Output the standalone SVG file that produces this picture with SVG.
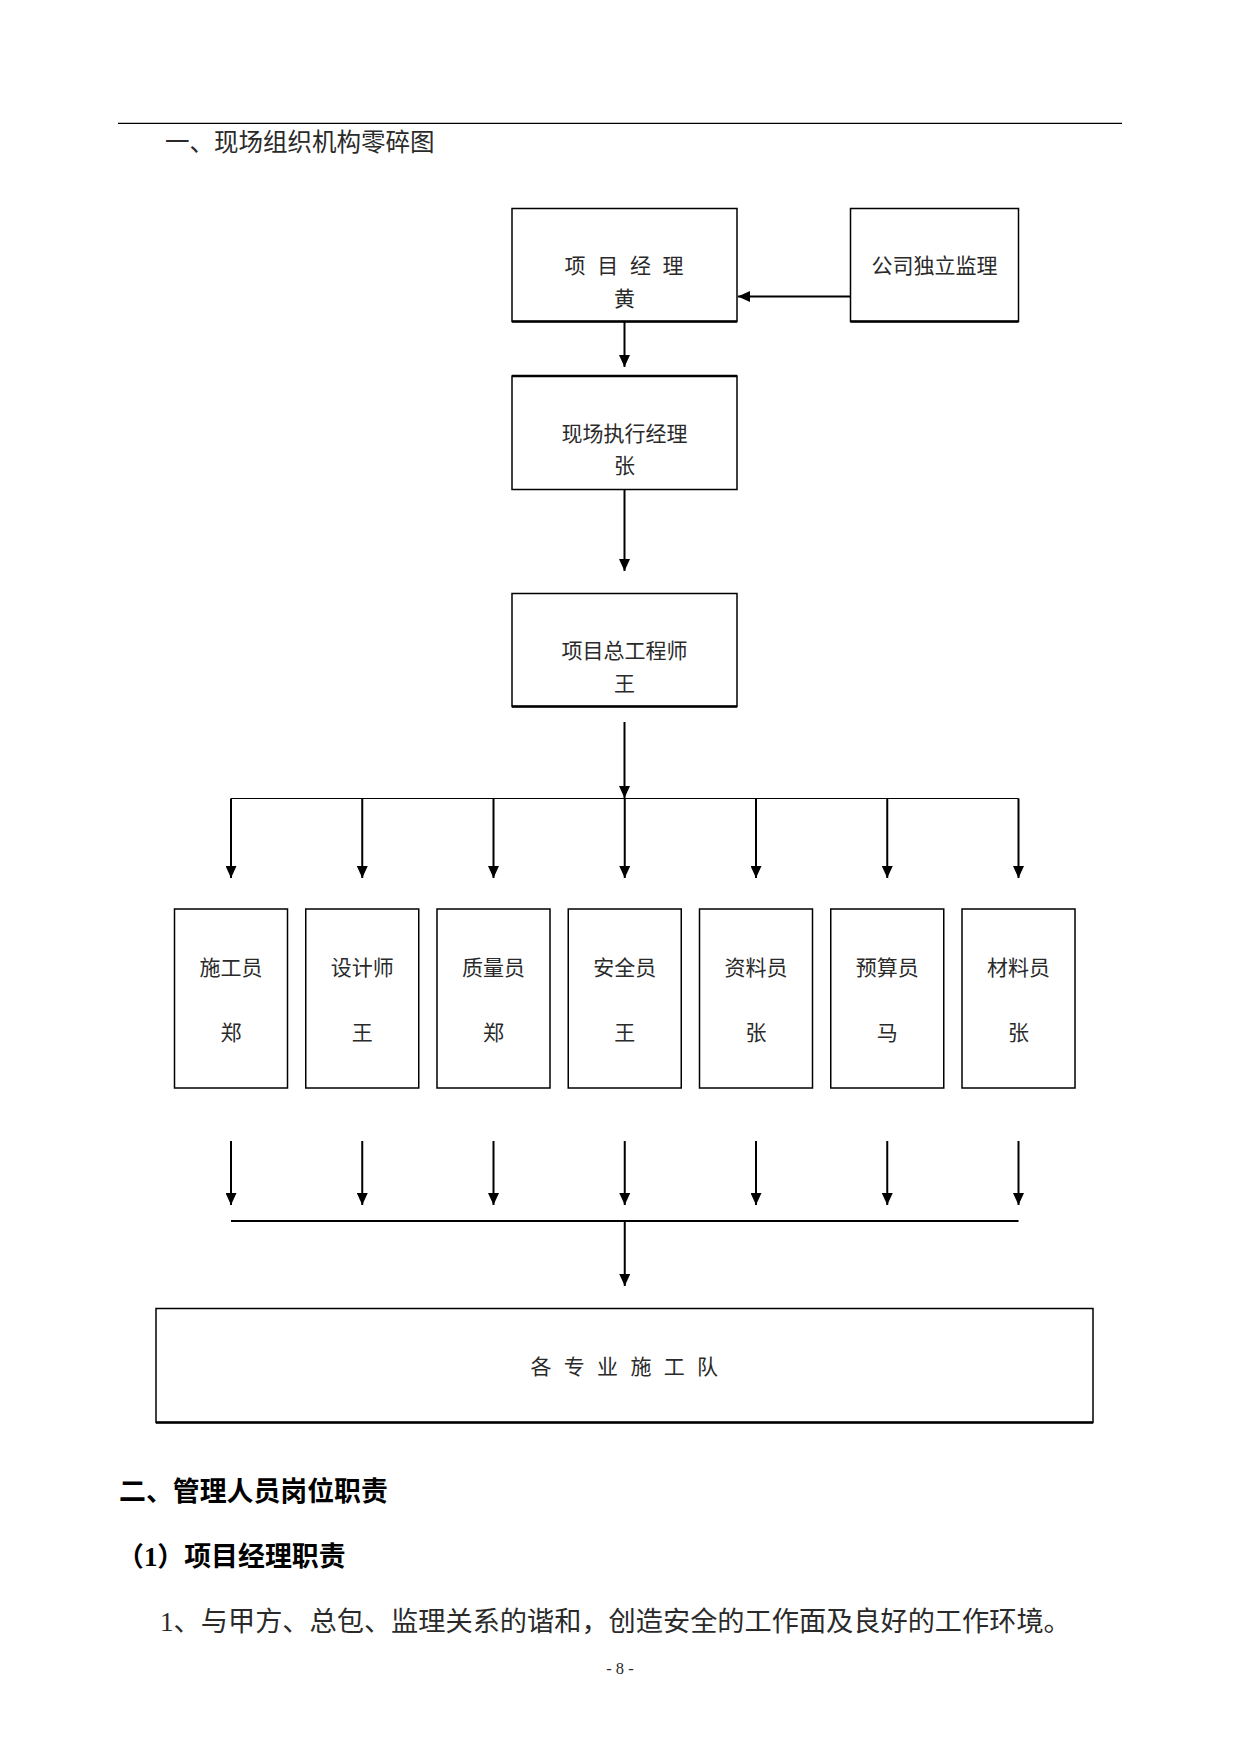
<svg xmlns="http://www.w3.org/2000/svg" width="1241" height="1755" viewBox="0 0 1241 1755">
<style>
  .bg { fill: #ffffff; }
  .box { fill: #ffffff; stroke: #000; stroke-width: 1.5; }
  .thick { stroke: #000; stroke-width: 2.4; fill: none; }
  .t { font-family: "Liberation Serif", "Noto Sans CJK SC", serif; fill: #2a2a2a; }
  .bt { font-family: "Liberation Serif", "Noto Sans CJK SC", serif; font-size: 21px; fill: #2a2a2a; text-anchor: middle; }
  .h { font-family: "Liberation Serif", "Noto Sans CJK SC", serif; font-weight: bold; fill: #000; }
  .line { stroke: #000; stroke-width: 2; fill: none; }
  .thin { stroke: #000; stroke-width: 1.2; fill: none; }
  .arrow { stroke: #000; stroke-width: 2; fill: none; marker-end: url(#ah); }
</style>
<defs>
  <marker id="ah" markerUnits="userSpaceOnUse" markerWidth="12" markerHeight="11" refX="12" refY="5.5" orient="auto">
    <path d="M0,0 L12,5.5 L0,11 Z" fill="#000"/>
  </marker>
</defs>
<rect class="bg" x="0" y="0" width="1241" height="1755"/>

<g id="page-header">
  <line x1="118" y1="123.3" x2="1122" y2="123.3" stroke="#000" stroke-width="1.3"/>
  <text class="t" x="165" y="150.8" font-size="24.5">一、现场组织机构零碎图</text>
</g>

<g id="node-pm">
  <rect class="box" x="512" y="208.5" width="225" height="113"/>
  <line class="thick" x1="512" y1="321.5" x2="737" y2="321.5"/>
  <text class="bt" x="575 607.7 640.4 673.1" y="273">项目经理</text>
  <text class="bt" x="624.5" y="306">黄</text>
</g>

<g id="node-supervision">
  <rect class="box" x="850.5" y="208.5" width="168" height="113"/>
  <line class="thick" x1="850.5" y1="321.5" x2="1018.5" y2="321.5"/>
  <text class="bt" x="934.5" y="273">公司独立监理</text>
</g>

<g id="node-site-manager">
  <rect class="box" x="512" y="376" width="225" height="113.5"/>
  <line class="thick" x1="512" y1="376" x2="737" y2="376"/>
  <text class="bt" x="624.5" y="441">现场执行经理</text>
  <text class="bt" x="624.5" y="473">张</text>
</g>

<g id="node-chief-engineer">
  <rect class="box" x="512" y="593.5" width="225" height="113"/>
  <line class="thick" x1="512" y1="706.5" x2="737" y2="706.5"/>
  <text class="bt" x="624.5" y="657.5">项目总工程师</text>
  <text class="bt" x="624.5" y="691">王</text>
</g>

<g id="node-staff-1">
  <rect class="box" x="174.5" y="909" width="113" height="179"/>
  <text class="bt" x="231" y="974.5">施工员</text>
  <text class="bt" x="231" y="1040">郑</text>
</g>
<g id="node-staff-2">
  <rect class="box" x="305.75" y="909" width="113" height="179"/>
  <text class="bt" x="362.25" y="974.5">设计师</text>
  <text class="bt" x="362.25" y="1040">王</text>
</g>
<g id="node-staff-3">
  <rect class="box" x="437" y="909" width="113" height="179"/>
  <text class="bt" x="493.5" y="974.5">质量员</text>
  <text class="bt" x="493.5" y="1040">郑</text>
</g>
<g id="node-staff-4">
  <rect class="box" x="568.25" y="909" width="113" height="179"/>
  <text class="bt" x="624.75" y="974.5">安全员</text>
  <text class="bt" x="624.75" y="1040">王</text>
</g>
<g id="node-staff-5">
  <rect class="box" x="699.5" y="909" width="113" height="179"/>
  <text class="bt" x="756" y="974.5">资料员</text>
  <text class="bt" x="756" y="1040">张</text>
</g>
<g id="node-staff-6">
  <rect class="box" x="830.75" y="909" width="113" height="179"/>
  <text class="bt" x="887.25" y="974.5">预算员</text>
  <text class="bt" x="887.25" y="1040">马</text>
</g>
<g id="node-staff-7">
  <rect class="box" x="962" y="909" width="113" height="179"/>
  <text class="bt" x="1018.5" y="974.5">材料员</text>
  <text class="bt" x="1018.5" y="1040">张</text>
</g>

<g id="node-teams">
  <rect class="box" x="156" y="1308.5" width="937" height="114"/>
  <line class="thick" x1="156" y1="1422.5" x2="1093" y2="1422.5"/>
  <text class="bt" x="541 574.3 607.6 640.9 674.2 707.5" y="1373.5">各专业施工队</text>
</g>

<g id="connectors">
  <line class="arrow" x1="850.5" y1="296.5" x2="738" y2="296.5"/>
  <line class="arrow" x1="624.5" y1="322" x2="624.5" y2="367"/>
  <line class="arrow" x1="624.5" y1="490" x2="624.5" y2="571"/>
  <line class="arrow" x1="624.5" y1="722" x2="624.5" y2="798"/>
  <line class="thin" x1="231" y1="798.5" x2="1018.5" y2="798.5"/>
  <line class="arrow" x1="231" y1="798.5" x2="231" y2="878"/>
  <line class="arrow" x1="362.25" y1="798.5" x2="362.25" y2="878"/>
  <line class="arrow" x1="493.5" y1="798.5" x2="493.5" y2="878"/>
  <line class="arrow" x1="624.75" y1="798.5" x2="624.75" y2="878"/>
  <line class="arrow" x1="756" y1="798.5" x2="756" y2="878"/>
  <line class="arrow" x1="887.25" y1="798.5" x2="887.25" y2="878"/>
  <line class="arrow" x1="1018.5" y1="798.5" x2="1018.5" y2="878"/>
  <line class="arrow" x1="231" y1="1141" x2="231" y2="1205"/>
  <line class="arrow" x1="362.25" y1="1141" x2="362.25" y2="1205"/>
  <line class="arrow" x1="493.5" y1="1141" x2="493.5" y2="1205"/>
  <line class="arrow" x1="624.75" y1="1141" x2="624.75" y2="1205"/>
  <line class="arrow" x1="756" y1="1141" x2="756" y2="1205"/>
  <line class="arrow" x1="887.25" y1="1141" x2="887.25" y2="1205"/>
  <line class="arrow" x1="1018.5" y1="1141" x2="1018.5" y2="1205"/>
  <line class="line" x1="231" y1="1221" x2="1018.5" y2="1221" stroke-width="2.4"/>
  <line class="arrow" x1="624.75" y1="1221" x2="624.75" y2="1286"/>
</g>

<g id="body-text">
  <text class="h" x="119" y="1500.5" font-size="26.9">二、管理人员岗位职责</text>
  <text class="h" x="117" y="1565.5" font-size="26.9">（1）项目经理职责</text>
  <text class="t" x="160" y="1630.5" font-size="27.2">1、与甲方、总包、监理关系的谐和，创造安全的工作面及良好的工作环境。</text>
  <text class="t" x="620" y="1673.5" font-size="16.5" text-anchor="middle">- 8 -</text>
</g>
</svg>
